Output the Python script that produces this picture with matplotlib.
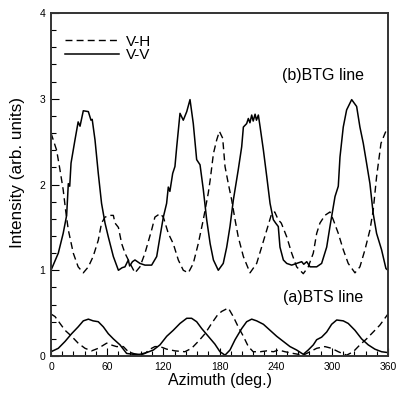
import numpy as np
import matplotlib
matplotlib.use("Agg")
import matplotlib.pyplot as plt
from matplotlib.ticker import MultipleLocator

plt.rcParams['font.family'] = ['Liberation Sans', 'DejaVu Sans']

# (b) BTG line, V-V (solid)
vv_b_x = [0, 7.8, 13, 16.7, 18.5, 20, 21.4, 25.6, 29, 31, 34.5, 39.9, 42.7, 44, 47, 50.5,
          54, 57.7, 61.2, 66.6, 72, 76, 79, 82.6, 84, 87, 89.7, 95, 100.4, 107.5, 112.9,
          116.4, 120, 123.5, 125.3, 127, 130, 132.4, 134.3, 137.8, 141.3, 145, 148.5, 152,
          155.6, 159.2, 162.7, 166.3, 170, 173.5, 178.7, 184, 187.7, 191.2, 194.8, 200,
          203.7, 205.5, 209, 210.8, 212.5, 214.4, 216, 218, 219.5, 221.5, 223.4, 226.9,
          230.5, 234, 237.5, 240, 242.8, 244.6, 248.2, 251.8, 257.1, 262.4, 267.8, 270,
          273.2, 276.7, 283.8, 289.1, 294.5, 298, 303.4, 306.9, 308.7, 312.2, 315.8, 321.2,
          326.5, 330, 333.6, 337.1, 340.7, 344.2, 347.8, 353.1, 357.8, 360]
vv_b_y = [1.0, 1.2, 1.43, 1.64, 2.01, 1.98, 2.25, 2.52, 2.73, 2.68, 2.86, 2.85, 2.75, 2.76,
          2.52, 2.13, 1.78, 1.55, 1.39, 1.16, 1.0, 1.03, 1.04, 1.12, 1.05, 1.1, 1.12, 1.08,
          1.06, 1.06, 1.16, 1.39, 1.62, 1.78, 1.97, 1.92, 2.13, 2.21, 2.44, 2.83, 2.75, 2.85,
          2.99, 2.71, 2.29, 2.23, 1.94, 1.59, 1.31, 1.12, 1.0, 1.08, 1.27, 1.51, 1.82, 2.17,
          2.44, 2.67, 2.71, 2.77, 2.72, 2.81, 2.74, 2.82, 2.75, 2.81, 2.67, 2.4, 2.09, 1.78,
          1.59, 1.55, 1.51, 1.27, 1.12, 1.08, 1.06, 1.08, 1.1, 1.07, 1.1, 1.04, 1.04, 1.08,
          1.27, 1.51, 1.86, 1.98, 2.32, 2.67, 2.87, 2.99, 2.91, 2.67, 2.48, 2.25, 2.01, 1.66,
          1.43, 1.24, 1.02, 1.0]

# (b) BTG line, V-H (dashed)
vh_b_x = [0, 3, 6, 9.6, 13, 15.6, 18.5, 23.8, 29, 34.5, 39.9, 45, 50.5, 54, 57.7, 63, 66.6,
          68.4, 72, 75.5, 79, 84.4, 89.7, 95, 100.4, 107.5, 111, 116.4, 120, 125.3, 130.6,
          136, 141.3, 146.7, 152, 157.3, 162.7, 168, 170, 173.5, 177, 179.9, 183.4, 185.9,
          189.4, 193, 196.6, 200, 205.5, 212.6, 219.7, 225, 230.5, 235.7, 239, 242.7, 246,
          251.8, 257.1, 262.4, 269.5, 274.8, 280.2, 283.8, 287.3, 292.6, 298, 301.5, 306.9,
          312.2, 317.5, 324.7, 330, 335.4, 340.7, 344.2, 347.8, 352.5, 356.9, 360]
vh_b_y = [2.6, 2.5, 2.4, 2.17, 1.94, 1.7, 1.47, 1.2, 1.04, 0.97, 1.04, 1.16, 1.35, 1.55,
          1.62, 1.64, 1.64, 1.55, 1.5, 1.31, 1.2, 1.08, 0.97, 1.04, 1.2, 1.47, 1.62, 1.66,
          1.62, 1.43, 1.31, 1.12, 1.0, 0.97, 1.08, 1.31, 1.59, 1.9, 2.05, 2.36, 2.52, 2.62,
          2.54, 2.21, 2.01, 1.82, 1.59, 1.39, 1.16, 0.97, 1.08, 1.27, 1.47, 1.66, 1.68, 1.59,
          1.55, 1.39, 1.2, 1.04, 0.96, 1.04, 1.2, 1.43, 1.55, 1.64, 1.68, 1.59, 1.43, 1.24,
          1.08, 0.97, 1.04, 1.24, 1.47, 1.7, 2.09, 2.48, 2.6, 2.67]

# (a) BTS line, V-V (solid)
vv_a_x = [0, 7.8, 15, 22, 29, 34.5, 39.9, 45, 50.5, 55.9, 61.2, 66.6, 73.7, 80.8, 87.9, 95,
          102.2, 109.3, 116.4, 123.6, 130.6, 137.8, 145, 150.2, 155.6, 161, 168, 175, 180.5,
          185.9, 191.2, 196.6, 203.7, 209, 214.4, 219.7, 226.9, 234, 241.1, 248.2, 255.3,
          262.4, 269.5, 274.8, 280.2, 283.8, 289.1, 294.5, 299.8, 305.2, 312.2, 317.5, 324.7,
          331.8, 338.9, 346, 353.1, 360]
vv_a_y = [0.05, 0.09, 0.17, 0.26, 0.34, 0.41, 0.43, 0.41, 0.4, 0.34, 0.26, 0.2, 0.13, 0.03,
          0.02, 0.02, 0.04, 0.07, 0.13, 0.23, 0.3, 0.38, 0.44, 0.44, 0.4, 0.32, 0.23, 0.14,
          0.05, 0.01, 0.07, 0.19, 0.32, 0.4, 0.43, 0.41, 0.37, 0.3, 0.23, 0.17, 0.11, 0.07,
          0.02, 0.07, 0.13, 0.19, 0.22, 0.28, 0.37, 0.42, 0.41, 0.38, 0.3, 0.2, 0.13, 0.08,
          0.05, 0.04]

# (a) BTS line, V-H (dashed)
vh_a_x = [0, 4.3, 9.6, 15, 22, 29, 36.3, 43.4, 50.5, 59.5, 64, 70, 77.3, 82.6, 87.9, 95,
          100.4, 105.8, 111, 116.4, 123.6, 132.5, 143, 150.2, 157.3, 164.5, 171.6, 178,
          182.3, 189.4, 194.7, 200, 205.5, 210.8, 216, 223.4, 230.5, 237.6, 243, 250,
          258.8, 269.5, 276.7, 283.8, 292.6, 299.7, 306.9, 315.8, 322.9, 330, 337.1, 344.2,
          351.3, 360]
vh_a_y = [0.49, 0.46, 0.38, 0.3, 0.23, 0.15, 0.09, 0.06, 0.09, 0.15, 0.13, 0.11, 0.11, 0.05,
          0.03, 0.01, 0.03, 0.08, 0.11, 0.11, 0.08, 0.06, 0.05, 0.09, 0.17, 0.26, 0.38, 0.48,
          0.52, 0.56, 0.46, 0.34, 0.23, 0.11, 0.05, 0.05, 0.06, 0.05, 0.07, 0.05, 0.03, 0.01,
          0.05, 0.09, 0.11, 0.09, 0.05, 0.01, 0.05, 0.13, 0.2, 0.28, 0.36, 0.49]

fig = plt.figure(figsize=(3.96, 3.94), dpi=100)
ax = fig.add_axes([0.1288, 0.0964, 0.851, 0.8706])

dash = (0, (5, 3))
ax.plot(vh_b_x, vh_b_y, color='black', lw=1.0, linestyle=dash, label='V-H')
ax.plot(vv_b_x, vv_b_y, color='black', lw=1.1, label='V-V')
ax.plot(vh_a_x, vh_a_y, color='black', lw=1.0, linestyle=dash)
ax.plot(vv_a_x, vv_a_y, color='black', lw=1.1)

ax.set_xlim(0, 360)
ax.set_ylim(0, 4)
ax.xaxis.set_major_locator(MultipleLocator(60))
ax.xaxis.set_minor_locator(MultipleLocator(12))
ax.yaxis.set_major_locator(MultipleLocator(1))
ax.yaxis.set_minor_locator(MultipleLocator(0.2))
ax.tick_params(which='both', direction='in', top=False, right=False, labelsize=7.5)
ax.tick_params(which='major', length=6, width=0.8, pad=4)
ax.tick_params(which='minor', length=3.5, width=0.8)
for s in ax.spines.values():
    s.set_linewidth(1.4)
    s.set_color('#333333')

ax.set_xlabel('Azimuth (deg.)', fontsize=11.5, labelpad=1)
ax.set_ylabel('Intensity (arb. units)', fontsize=12.3)
ax.yaxis.set_label_coords(-0.077, 0.536)

ax.text(290.6, 3.27, '(b)BTG line', fontsize=11.5, ha='center', va='center')
ax.text(290.6, 0.68, '(a)BTS line', fontsize=11.5, ha='center', va='center')

ax.legend(loc='upper left', frameon=False, fontsize=11, handlelength=3.55,
          handletextpad=0.45, labelspacing=-0.05, borderaxespad=0.5,
          bbox_to_anchor=(0.0, 0.977))

fig.savefig('out.png', dpi=100)
